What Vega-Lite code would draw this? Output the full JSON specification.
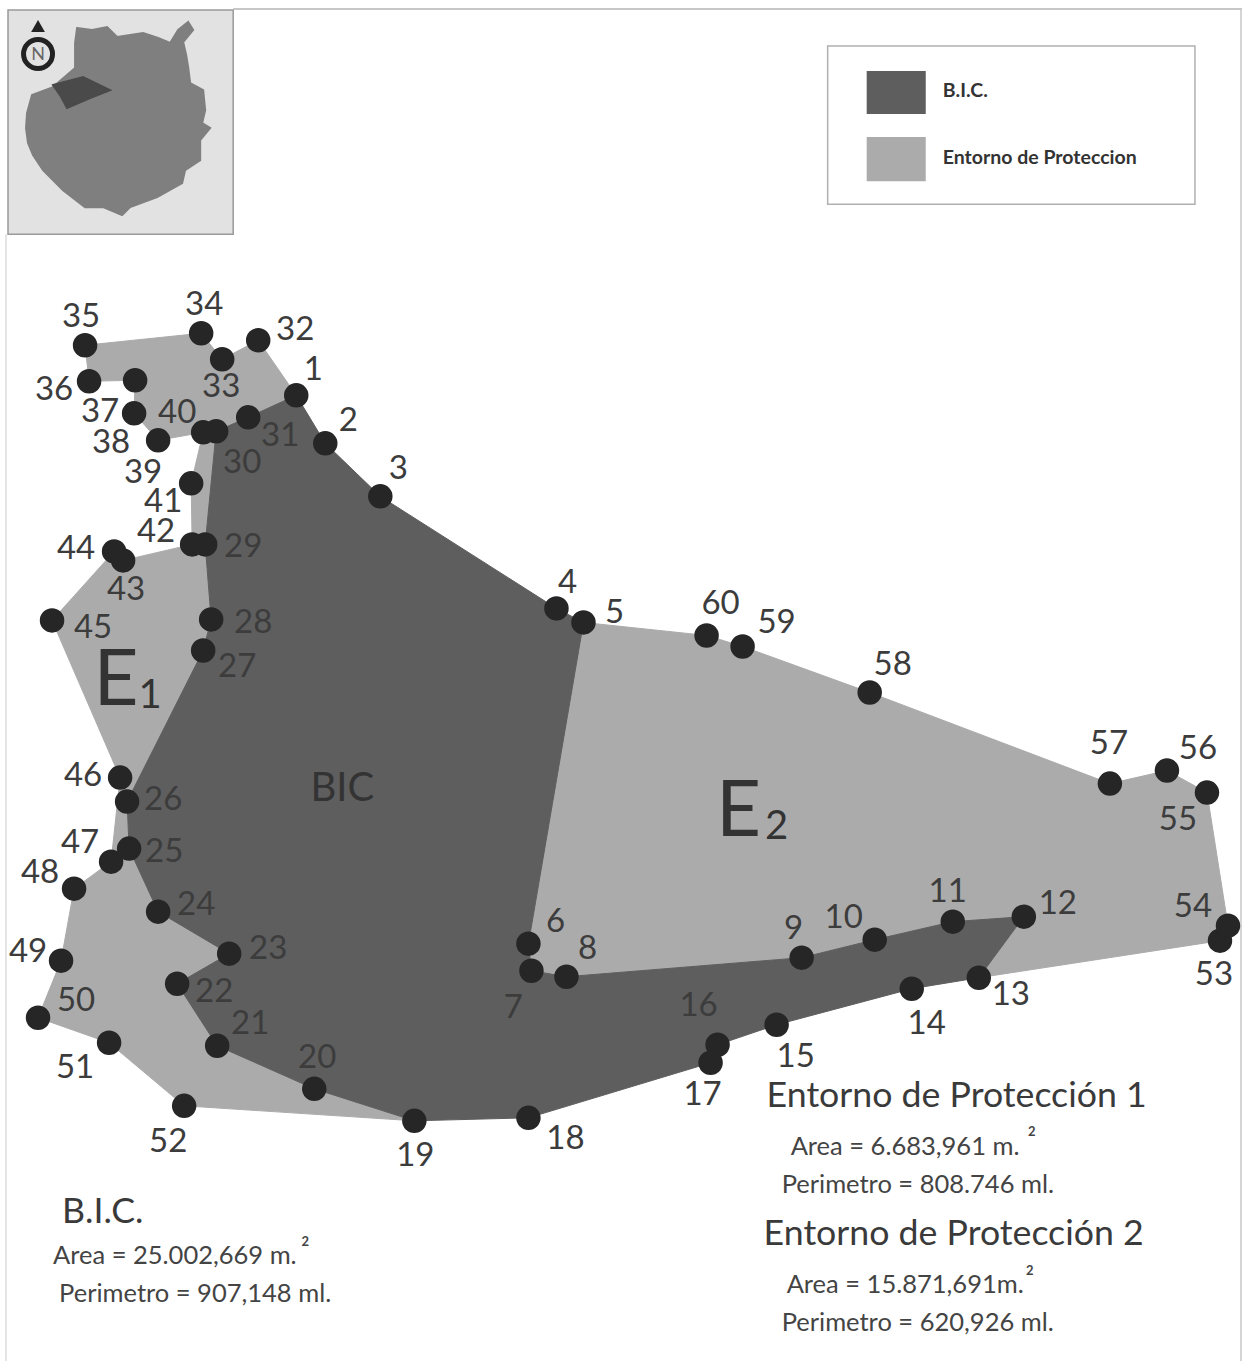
{"$schema":"https://vega.github.io/schema/vega-lite/v6.json","width":1243,"height":1362,"padding":0,"autosize":{"type":"fit","contains":"padding"},"background":"#ffffff","view":{"stroke":null},
"config":{"text":{"font":"Lato"}},
"datasets":{
"points":[{"n":"1","x":296,"y":395,"lx":313,"ly":369},{"n":"2","x":325,"y":443,"lx":348,"ly":420},{"n":"3","x":380,"y":496,"lx":398,"ly":468},{"n":"4","x":556,"y":608,"lx":567,"ly":582},{"n":"5","x":583,"y":622,"lx":614,"ly":612},{"n":"6","x":528,"y":943,"lx":555,"ly":920},{"n":"7","x":531,"y":970,"lx":513,"ly":1006},{"n":"8","x":566,"y":976,"lx":587,"ly":947},{"n":"9","x":801,"y":957,"lx":793,"ly":927},{"n":"10","x":874,"y":939,"lx":843,"ly":916},{"n":"11","x":952,"y":921,"lx":947,"ly":890},{"n":"12","x":1023,"y":916,"lx":1057,"ly":902},{"n":"13","x":978,"y":977,"lx":1010,"ly":993},{"n":"14","x":911,"y":988,"lx":926,"ly":1022},{"n":"15","x":776,"y":1024,"lx":795,"ly":1055},{"n":"16","x":717,"y":1044,"lx":698,"ly":1004},{"n":"17","x":710,"y":1062,"lx":702,"ly":1093},{"n":"18","x":528,"y":1117,"lx":565,"ly":1137},{"n":"19","x":414,"y":1120,"lx":415,"ly":1154},{"n":"20","x":314,"y":1088,"lx":317,"ly":1056},{"n":"21","x":217,"y":1045,"lx":250,"ly":1022},{"n":"22","x":177,"y":983,"lx":214,"ly":990},{"n":"23","x":229,"y":953,"lx":268,"ly":947},{"n":"24","x":158,"y":911,"lx":196,"ly":903},{"n":"25","x":129,"y":848,"lx":164,"ly":850},{"n":"26","x":127,"y":801,"lx":163,"ly":798},{"n":"27","x":203,"y":650,"lx":237,"ly":666},{"n":"28","x":211,"y":619,"lx":253,"ly":622},{"n":"29","x":205,"y":544,"lx":243,"ly":546},{"n":"30","x":216,"y":431,"lx":242,"ly":462},{"n":"31","x":248,"y":417,"lx":280,"ly":435},{"n":"32","x":258,"y":340,"lx":295,"ly":329},{"n":"33","x":222,"y":359,"lx":221,"ly":386},{"n":"34","x":201,"y":333,"lx":204,"ly":304},{"n":"35","x":85,"y":345,"lx":81,"ly":316},{"n":"36","x":89,"y":381,"lx":54,"ly":389},{"n":"37","x":135,"y":380,"lx":100,"ly":411},{"n":"38","x":134,"y":413,"lx":111,"ly":442},{"n":"39","x":158,"y":440,"lx":143,"ly":472},{"n":"40","x":203,"y":432,"lx":177,"ly":412},{"n":"41","x":191,"y":483,"lx":163,"ly":501},{"n":"42","x":192,"y":544,"lx":156,"ly":531},{"n":"43","x":123,"y":560,"lx":126,"ly":589},{"n":"44","x":114,"y":551,"lx":76,"ly":548},{"n":"45","x":52,"y":620,"lx":93,"ly":627},{"n":"46","x":120,"y":777,"lx":83,"ly":774},{"n":"47","x":111,"y":861,"lx":80,"ly":841},{"n":"48","x":74,"y":888,"lx":40,"ly":871},{"n":"49","x":61,"y":960,"lx":28,"ly":950},{"n":"50","x":38,"y":1017,"lx":76,"ly":999},{"n":"51","x":109,"y":1042,"lx":75,"ly":1066},{"n":"52","x":184,"y":1105,"lx":168,"ly":1140},{"n":"53","x":1219,"y":940,"lx":1213,"ly":973},{"n":"54","x":1227,"y":925,"lx":1192,"ly":905},{"n":"55","x":1206,"y":792,"lx":1177,"ly":818},{"n":"56","x":1166,"y":770,"lx":1197,"ly":747},{"n":"57","x":1109,"y":783,"lx":1108,"ly":742},{"n":"58","x":869,"y":692,"lx":892,"ly":664},{"n":"59","x":742,"y":646,"lx":776,"ly":622},{"n":"60","x":706,"y":635,"lx":720,"ly":603}],
"e1":[{"o":1,"x":85,"y":345},{"o":2,"x":201,"y":333},{"o":3,"x":222,"y":359},{"o":4,"x":258,"y":340},{"o":5,"x":296,"y":395},{"o":6,"x":248,"y":417},{"o":7,"x":216,"y":431},{"o":8,"x":205,"y":544},{"o":9,"x":211,"y":619},{"o":10,"x":203,"y":650},{"o":11,"x":127,"y":801},{"o":12,"x":129,"y":848},{"o":13,"x":158,"y":911},{"o":14,"x":229,"y":953},{"o":15,"x":177,"y":983},{"o":16,"x":217,"y":1045},{"o":17,"x":314,"y":1088},{"o":18,"x":414,"y":1120},{"o":19,"x":184,"y":1105},{"o":20,"x":109,"y":1042},{"o":21,"x":38,"y":1017},{"o":22,"x":61,"y":960},{"o":23,"x":74,"y":888},{"o":24,"x":111,"y":861},{"o":25,"x":120,"y":777},{"o":26,"x":52,"y":620},{"o":27,"x":114,"y":551},{"o":28,"x":123,"y":560},{"o":29,"x":192,"y":544},{"o":30,"x":191,"y":483},{"o":31,"x":203,"y":432},{"o":32,"x":158,"y":440},{"o":33,"x":134,"y":413},{"o":34,"x":135,"y":380},{"o":35,"x":89,"y":381}],
"e2":[{"o":1,"x":583,"y":622},{"o":2,"x":706,"y":635},{"o":3,"x":742,"y":646},{"o":4,"x":869,"y":692},{"o":5,"x":1109,"y":783},{"o":6,"x":1166,"y":770},{"o":7,"x":1206,"y":792},{"o":8,"x":1227,"y":925},{"o":9,"x":1219,"y":940},{"o":10,"x":978,"y":977},{"o":11,"x":1023,"y":916},{"o":12,"x":952,"y":921},{"o":13,"x":874,"y":939},{"o":14,"x":801,"y":957},{"o":15,"x":566,"y":976},{"o":16,"x":531,"y":970},{"o":17,"x":528,"y":943}],
"bic":[{"o":1,"x":296,"y":395},{"o":2,"x":325,"y":443},{"o":3,"x":380,"y":496},{"o":4,"x":556,"y":608},{"o":5,"x":583,"y":622},{"o":6,"x":528,"y":943},{"o":7,"x":531,"y":970},{"o":8,"x":566,"y":976},{"o":9,"x":801,"y":957},{"o":10,"x":874,"y":939},{"o":11,"x":952,"y":921},{"o":12,"x":1023,"y":916},{"o":13,"x":978,"y":977},{"o":14,"x":911,"y":988},{"o":15,"x":776,"y":1024},{"o":16,"x":717,"y":1044},{"o":17,"x":710,"y":1062},{"o":18,"x":528,"y":1117},{"o":19,"x":414,"y":1120},{"o":20,"x":314,"y":1088},{"o":21,"x":217,"y":1045},{"o":22,"x":177,"y":983},{"o":23,"x":229,"y":953},{"o":24,"x":158,"y":911},{"o":25,"x":129,"y":848},{"o":26,"x":127,"y":801},{"o":27,"x":203,"y":650},{"o":28,"x":211,"y":619},{"o":29,"x":205,"y":544},{"o":30,"x":216,"y":431},{"o":31,"x":248,"y":417}],
"island":[{"o":1,"x":77,"y":28},{"o":2,"x":92,"y":30},{"o":3,"x":107,"y":27},{"o":4,"x":117,"y":37},{"o":5,"x":143,"y":33},{"o":6,"x":158,"y":38},{"o":7,"x":170,"y":43},{"o":8,"x":178,"y":30},{"o":9,"x":188,"y":22},{"o":10,"x":193,"y":30},{"o":11,"x":183,"y":42},{"o":12,"x":186,"y":55},{"o":13,"x":188,"y":67},{"o":14,"x":190,"y":83},{"o":15,"x":203,"y":90},{"o":16,"x":205,"y":110},{"o":17,"x":202,"y":123},{"o":18,"x":210,"y":128},{"o":19,"x":200,"y":140},{"o":20,"x":200,"y":160},{"o":21,"x":185,"y":170},{"o":22,"x":182,"y":183},{"o":23,"x":157,"y":197},{"o":24,"x":130,"y":207},{"o":25,"x":122,"y":215},{"o":26,"x":103,"y":207},{"o":27,"x":85,"y":207},{"o":28,"x":63,"y":190},{"o":29,"x":43,"y":170},{"o":30,"x":33,"y":155},{"o":31,"x":28,"y":143},{"o":32,"x":26,"y":128},{"o":33,"x":27,"y":113},{"o":34,"x":32,"y":95},{"o":35,"x":53,"y":87},{"o":36,"x":75,"y":68},{"o":37,"x":75,"y":43}],
"islandBic":[{"o":1,"x":53,"y":85},{"o":2,"x":83,"y":77},{"o":3,"x":110,"y":90},{"o":4,"x":90,"y":98},{"o":5,"x":67,"y":108},{"o":6,"x":60,"y":95}],
"titles":[{"t":"Entorno de Protección 1","x":766,"y":1095},{"t":"Entorno de Protección 2","x":763,"y":1233},{"t":"B.I.C.","x":62,"y":1211}],
"details":[{"t":"Area = 6.683,961 m.","x":790,"y":1146},{"t":"Perimetro = 808.746 ml.","x":781,"y":1184},{"t":"Area = 15.871,691m.","x":786,"y":1284},{"t":"Perimetro = 620,926 ml.","x":781,"y":1322},{"t":"Area = 25.002,669 m.","x":53,"y":1255},{"t":"Perimetro = 907,148 ml.","x":59,"y":1293}],
"sups":[{"t":"2","x":1031,"y":1131},{"t":"2","x":1029,"y":1270},{"t":"2","x":305,"y":1241}],
"bigE":[{"t":"E","x":116,"y":680},{"t":"E","x":738,"y":811}],
"subs":[{"t":"1","x":150,"y":694},{"t":"2","x":776,"y":825}],
"legendText":[{"t":"B.I.C.","x":942,"y":91},{"t":"Entorno de Proteccion","x":942,"y":158}]
},
"layer":[
{"data":{"values":[{"x":8,"x2":233,"y":10,"y2":234}]},"mark":{"type":"rect","fill":"#e2e2e2","stroke":"#9a9a9a","strokeWidth":1.5},"encoding":{"x":{"field":"x","type":"quantitative","scale":{"domain":[0,1242],"nice":false,"zero":false},"axis":null},"x2":{"field":"x2"},"y":{"field":"y","type":"quantitative","scale":{"domain":[1360,0],"nice":false,"zero":false},"axis":null},"y2":{"field":"y2"}}},
{"data":{"values":[{"x":233,"x2":1241,"y":9}]},"mark":{"type":"rule","stroke":"#b5b5b5","strokeWidth":1.5},"encoding":{"x":{"field":"x","type":"quantitative"},"x2":{"field":"x2"},"y":{"field":"y","type":"quantitative"}}},
{"data":{"values":[{"x":1240,"y":9,"y2":1360}]},"mark":{"type":"rule","stroke":"#c8c8c8","strokeWidth":1.5},"encoding":{"x":{"field":"x","type":"quantitative"},"y":{"field":"y","type":"quantitative"},"y2":{"field":"y2"}}},
{"data":{"values":[{"x":6,"y":234,"y2":1360}]},"mark":{"type":"rule","stroke":"#dddddd","strokeWidth":1.5},"encoding":{"x":{"field":"x","type":"quantitative"},"y":{"field":"y","type":"quantitative"},"y2":{"field":"y2"}}},
{"data":{"name":"island"},"mark":{"type":"line","interpolate":"linear-closed","fill":"#7f7f7f","stroke":"#7f7f7f"},"encoding":{"x":{"field":"x","type":"quantitative"},"y":{"field":"y","type":"quantitative"},"order":{"field":"o"}}},
{"data":{"name":"islandBic"},"mark":{"type":"line","interpolate":"linear-closed","fill":"#4a4a4a","stroke":"#4a4a4a"},"encoding":{"x":{"field":"x","type":"quantitative"},"y":{"field":"y","type":"quantitative"},"order":{"field":"o"}}},
{"data":{"values":[{"x":38,"y":54}]},"mark":{"type":"point","shape":"circle","size":840,"filled":false,"stroke":"#222222","strokeWidth":5,"opacity":1},"encoding":{"x":{"field":"x","type":"quantitative"},"y":{"field":"y","type":"quantitative"}}},
{"data":{"values":[{"x":38,"y":26}]},"mark":{"type":"point","shape":"triangle-up","size":190,"filled":true,"fill":"#222222","opacity":1},"encoding":{"x":{"field":"x","type":"quantitative"},"y":{"field":"y","type":"quantitative"}}},
{"data":{"values":[{"t":"N","x":38,"y":54}]},"mark":{"type":"text","fontSize":18,"align":"center","baseline":"middle","fill":"#666666","dy":1},"encoding":{"x":{"field":"x","type":"quantitative"},"y":{"field":"y","type":"quantitative"},"text":{"field":"t"}}},
{"data":{"values":[{"x":827,"x2":1194,"y":46,"y2":204}]},"mark":{"type":"rect","fill":"#ffffff","stroke":"#b0b0b0","strokeWidth":1.5},"encoding":{"x":{"field":"x","type":"quantitative"},"x2":{"field":"x2"},"y":{"field":"y","type":"quantitative"},"y2":{"field":"y2"}}},
{"data":{"values":[{"x":866,"x2":925,"y":71,"y2":114}]},"mark":{"type":"rect","fill":"#5e5e5e"},"encoding":{"x":{"field":"x","type":"quantitative"},"x2":{"field":"x2"},"y":{"field":"y","type":"quantitative"},"y2":{"field":"y2"}}},
{"data":{"values":[{"x":866,"x2":925,"y":137,"y2":181}]},"mark":{"type":"rect","fill":"#ababab"},"encoding":{"x":{"field":"x","type":"quantitative"},"x2":{"field":"x2"},"y":{"field":"y","type":"quantitative"},"y2":{"field":"y2"}}},
{"data":{"name":"legendText"},"mark":{"type":"text","fontSize":19.5,"fontWeight":"bold","align":"left","baseline":"middle","fill":"#333333"},"encoding":{"x":{"field":"x","type":"quantitative"},"y":{"field":"y","type":"quantitative"},"text":{"field":"t"}}},
{"data":{"name":"e1"},"mark":{"type":"line","interpolate":"linear-closed","fill":"#ababab","stroke":"#ababab","strokeWidth":1},"encoding":{"x":{"field":"x","type":"quantitative"},"y":{"field":"y","type":"quantitative"},"order":{"field":"o"}}},
{"data":{"name":"e2"},"mark":{"type":"line","interpolate":"linear-closed","fill":"#ababab","stroke":"#ababab","strokeWidth":1},"encoding":{"x":{"field":"x","type":"quantitative"},"y":{"field":"y","type":"quantitative"},"order":{"field":"o"}}},
{"data":{"name":"bic"},"mark":{"type":"line","interpolate":"linear-closed","fill":"#5e5e5e","stroke":"#5e5e5e","strokeWidth":1},"encoding":{"x":{"field":"x","type":"quantitative"},"y":{"field":"y","type":"quantitative"},"order":{"field":"o"}}},
{"data":{"name":"points"},"mark":{"type":"point","shape":"circle","size":600,"filled":true,"fill":"#262626","opacity":1},"encoding":{"x":{"field":"x","type":"quantitative"},"y":{"field":"y","type":"quantitative"}}},
{"data":{"name":"points"},"mark":{"type":"text","fontSize":33,"align":"center","baseline":"middle","fill":"#3c3c3c","dy":1},"encoding":{"x":{"field":"lx","type":"quantitative"},"y":{"field":"ly","type":"quantitative"},"text":{"field":"n"}}},
{"data":{"values":[{"t":"BIC","x":342,"y":787}]},"mark":{"type":"text","fontSize":40,"align":"center","baseline":"middle","fill":"#333333","dy":1},"encoding":{"x":{"field":"x","type":"quantitative"},"y":{"field":"y","type":"quantitative"},"text":{"field":"t"}}},
{"data":{"name":"bigE"},"mark":{"type":"text","fontSize":78,"align":"center","baseline":"middle","fill":"#333333","dy":1},"encoding":{"x":{"field":"x","type":"quantitative"},"y":{"field":"y","type":"quantitative"},"text":{"field":"t"}}},
{"data":{"name":"subs"},"mark":{"type":"text","fontSize":40,"align":"center","baseline":"middle","fill":"#333333","dy":1},"encoding":{"x":{"field":"x","type":"quantitative"},"y":{"field":"y","type":"quantitative"},"text":{"field":"t"}}},
{"data":{"name":"titles"},"mark":{"type":"text","fontSize":35.7,"align":"left","baseline":"middle","fill":"#3a3a3a"},"encoding":{"x":{"field":"x","type":"quantitative"},"y":{"field":"y","type":"quantitative"},"text":{"field":"t"}}},
{"data":{"name":"details"},"mark":{"type":"text","fontSize":25.5,"align":"left","baseline":"middle","fill":"#444444"},"encoding":{"x":{"field":"x","type":"quantitative"},"y":{"field":"y","type":"quantitative"},"text":{"field":"t"}}},
{"data":{"name":"sups"},"mark":{"type":"text","fontSize":13,"fontWeight":"bold","align":"center","baseline":"middle","fill":"#444444"},"encoding":{"x":{"field":"x","type":"quantitative"},"y":{"field":"y","type":"quantitative"},"text":{"field":"t"}}}
]}
